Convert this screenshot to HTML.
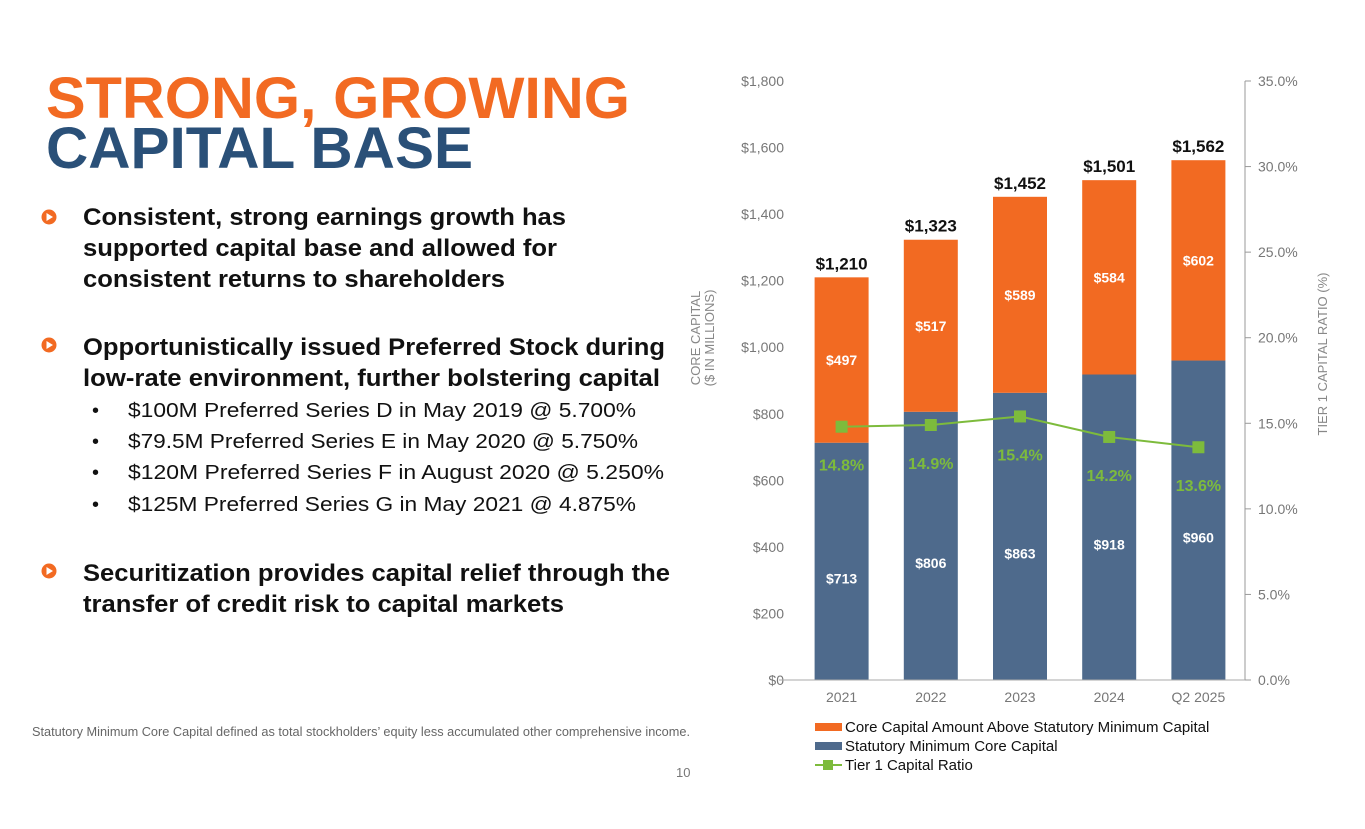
<!DOCTYPE html>
<html><head><meta charset="utf-8"><style>
body{margin:0;background:#fff}
svg{display:block;font-family:"Liberation Sans",Arial,sans-serif}
</style></head><body>
<svg width="1365" height="829" viewBox="0 0 1365 829">
<text x="46" y="118" font-size="58" font-weight="bold" fill="#f26a22" textLength="584" lengthAdjust="spacingAndGlyphs">STRONG, GROWING</text>
<text x="46" y="168" font-size="58" font-weight="bold" fill="#2a5078" textLength="427" lengthAdjust="spacingAndGlyphs">CAPITAL BASE</text>
<g font-size="24" font-weight="bold" fill="#111">
<g>
<circle cx="49" cy="217" r="7.5" fill="#f26a22"/><path d="M46.5 213 L53 217 L46.5 221 Z" fill="#fff"/>
<text x="83" y="225" textLength="483" lengthAdjust="spacingAndGlyphs">Consistent, strong earnings growth has</text>
<text x="83" y="256" textLength="474" lengthAdjust="spacingAndGlyphs">supported capital base and allowed for</text>
<text x="83" y="287" textLength="422" lengthAdjust="spacingAndGlyphs">consistent returns to shareholders</text></g>
<g>
<circle cx="49" cy="345" r="7.5" fill="#f26a22"/><path d="M46.5 341 L53 345 L46.5 349 Z" fill="#fff"/>
<text x="83" y="355" textLength="582" lengthAdjust="spacingAndGlyphs">Opportunistically issued Preferred Stock during</text>
<text x="83" y="386" textLength="577" lengthAdjust="spacingAndGlyphs">low-rate environment, further bolstering capital</text></g>
<g>
<circle cx="49" cy="571" r="7.5" fill="#f26a22"/><path d="M46.5 567 L53 571 L46.5 575 Z" fill="#fff"/>
<text x="83" y="581" textLength="587" lengthAdjust="spacingAndGlyphs">Securitization provides capital relief through the</text>
<text x="83" y="612" textLength="481" lengthAdjust="spacingAndGlyphs">transfer of credit risk to capital markets</text></g>
</g>
<g font-size="20" fill="#111">
<text x="92" y="417">•</text><text x="128" y="417" textLength="508" lengthAdjust="spacingAndGlyphs">$100M Preferred Series D in May 2019 @ 5.700%</text>
<text x="92" y="448">•</text><text x="128" y="448" textLength="510" lengthAdjust="spacingAndGlyphs">$79.5M Preferred Series E in May 2020 @ 5.750%</text>
<text x="92" y="479">•</text><text x="128" y="479" textLength="536" lengthAdjust="spacingAndGlyphs">$120M Preferred Series F in August 2020 @ 5.250%</text>
<text x="92" y="511">•</text><text x="128" y="511" textLength="508" lengthAdjust="spacingAndGlyphs">$125M Preferred Series G in May 2021 @ 4.875%</text>
</g>
<text x="32" y="736" font-size="13" fill="#666" textLength="658" lengthAdjust="spacingAndGlyphs">Statutory Minimum Core Capital defined as total stockholders’ equity less accumulated other comprehensive income.</text>
<text x="676" y="777" font-size="13" fill="#777">10</text>
<g id="chart"></g>
</svg>
<script>
const categories=["2021","2022","2023","2024","Q2 2025"];
const statMin=[713,806,863,918,960];
const above=[497,517,589,584,602];
const totals=["$1,210","$1,323","$1,452","$1,501","$1,562"];
const ratio=[14.8,14.9,15.4,14.2,13.6];
const leftTicks=[0,200,400,600,800,1000,1200,1400,1600,1800];
const rightTicks=[0,5,10,15,20,25,30,35];
const NS="http://www.w3.org/2000/svg";
const g=document.getElementById('chart');
const x0=799,x1=1245,y0=680,yTop=81;
const yL=v=>y0-v/1800*(y0-yTop);
const yR=v=>y0-v/35*(y0-yTop);
const band=(x1-x0)/categories.length;
const xc=i=>x0+band*(i+0.5)-2;
const bw=54;
function el(t,a,txt){const e=document.createElementNS(NS,t);for(const k in a)e.setAttribute(k,a[k]);if(txt!=null)e.textContent=txt;g.appendChild(e);return e;}
leftTicks.forEach(v=>{const t=el('text',{x:784,y:yL(v)+5,'font-size':14,fill:'#777','text-anchor':'end'},'$'+v.toLocaleString('en-US'));

});
rightTicks.forEach(v=>{const t=el('text',{x:1258,y:yR(v)+5,'font-size':14,fill:'#777'},v.toFixed(1)+'%');


const m=el('line',{x1:1245,x2:1251,y1:yR(v),y2:yR(v),stroke:'#999'});

});
const ra=el('line',{x1:1245,x2:1245,y1:yTop,y2:y0,stroke:'#999'});


categories.forEach((c,i)=>{
const cx=xc(i);
const b1=el('rect',{x:cx-bw/2,y:yL(statMin[i]),width:bw,height:y0-yL(statMin[i]),fill:'#4e6a8c'});


const top=statMin[i]+above[i];
const b2=el('rect',{x:cx-bw/2,y:yL(top),width:bw,height:yL(statMin[i])-yL(top),fill:'#f26a22'});


const l1=el('text',{x:cx,y:(yL(statMin[i])+y0)/2+22,'font-size':14,'font-weight':'bold',fill:'#fff','text-anchor':'middle'},'$'+statMin[i]);


const l2=el('text',{x:cx,y:(yL(top)+yL(statMin[i]))/2+5,'font-size':14,'font-weight':'bold',fill:'#fff','text-anchor':'middle'},'$'+above[i]);


const l3=el('text',{x:cx,y:yL(top)-8,'font-size':17,'font-weight':'bold',fill:'#111','text-anchor':'middle'},totals[i]);


const xl=el('text',{x:cx,y:702,'font-size':14,fill:'#777','text-anchor':'middle'},c);


});
const xa=el('line',{x1:x0-20,x2:1245,y1:y0,y2:y0,stroke:'#aaa'});


const ln=el('polyline',{points:ratio.map((r,i)=>xc(i)+','+yR(r)).join(' '),fill:'none',stroke:'#7dbb3c','stroke-width':2});


ratio.forEach((r,i)=>{
const p=el('rect',{x:xc(i)-6,y:yR(r)-6,width:12,height:12,fill:'#7dbb3c'});


const t=el('text',{x:xc(i),y:yR(r)+44,'font-size':16,'font-weight':'bold',fill:'#7dbb3c','text-anchor':'middle'},r.toFixed(1)+'%');


});
const yt=el('text',{'font-size':13,fill:'#888','text-anchor':'middle',transform:'translate(700,338) rotate(-90)'});


yt.innerHTML='<tspan x="0" dy="0">CORE CAPITAL</tspan><tspan x="0" dy="14">($ IN MILLIONS)</tspan>';
const yt2=el('text',{'font-size':13,fill:'#888','text-anchor':'middle',transform:'translate(1327,354) rotate(-90)'},'TIER 1 CAPITAL RATIO (%)');


const lg=[['#f26a22','Core Capital Amount Above Statutory Minimum Capital',732],['#4e6a8c','Statutory Minimum Core Capital',751]];
lg.forEach(d=>{const r=el('rect',{x:815,y:d[2]-9,width:27,height:8,fill:d[0]});


const t=el('text',{x:845,y:d[2],'font-size':15,fill:'#111'},d[1]);

});
const ll=el('line',{x1:815,x2:842,y1:765,y2:765,stroke:'#7dbb3c','stroke-width':2});


const lm=el('rect',{x:823,y:760,width:10,height:10,fill:'#7dbb3c'});


const lt=el('text',{x:845,y:770,'font-size':15,fill:'#111'},'Tier 1 Capital Ratio');


</script>
</body></html>
